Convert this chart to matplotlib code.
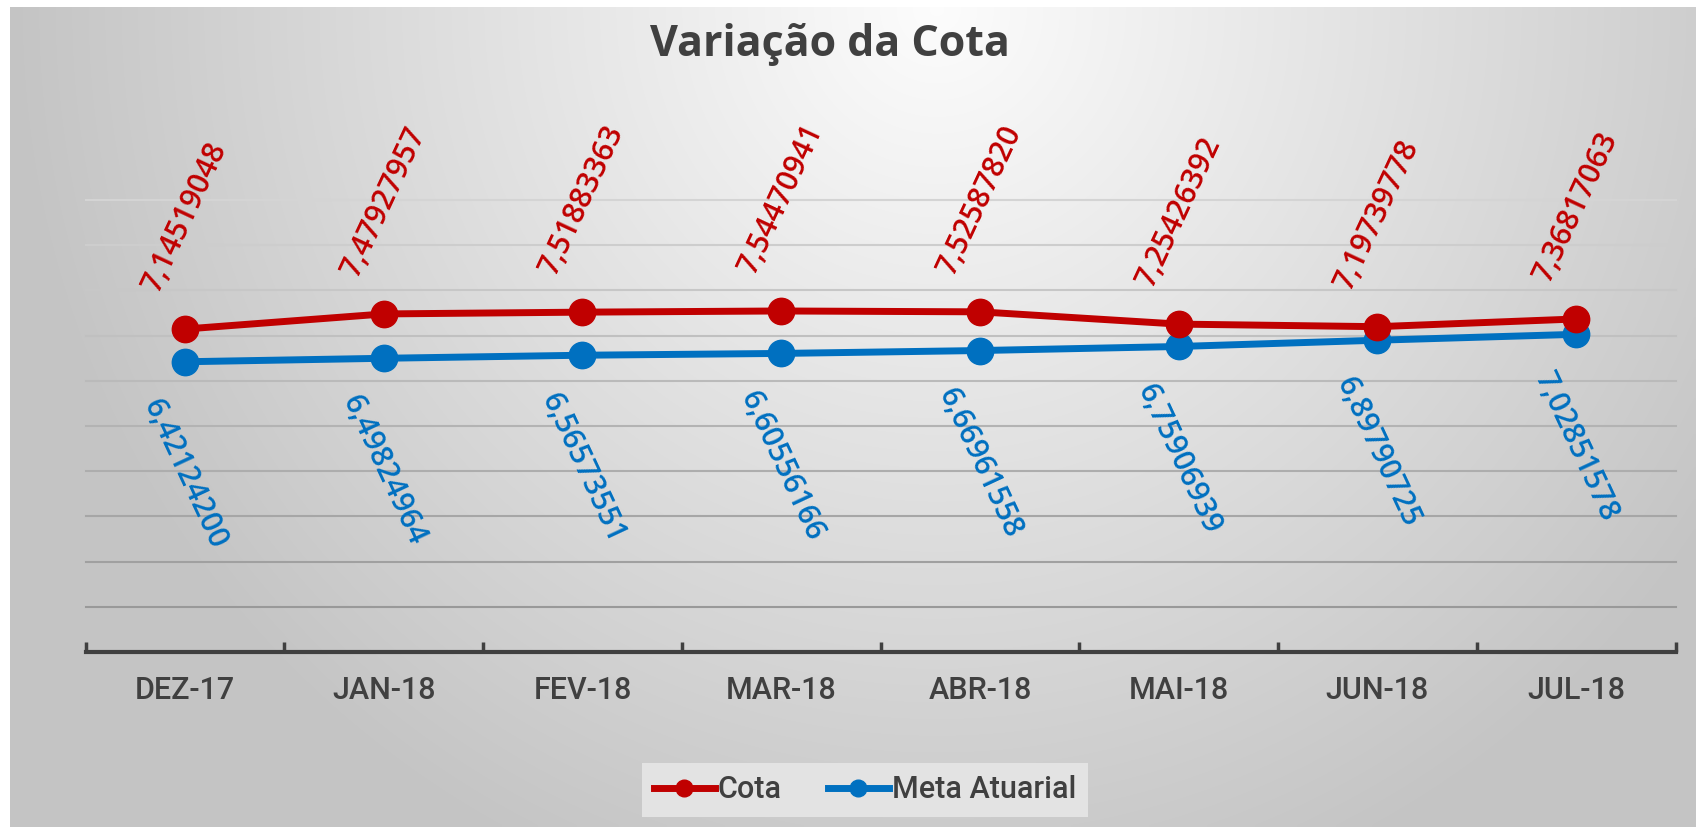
import numpy as np
import matplotlib.pyplot as plt
from matplotlib.lines import Line2D

# data
meses = ['DEZ-17', 'JAN-18', 'FEV-18', 'MAR-18', 'ABR-18', 'MAI-18', 'JUN-18', 'JUL-18']
cota = [7.14519048, 7.47927957, 7.51883363, 7.54470941, 7.52587820, 7.25426392, 7.19739778, 7.36817063]
meta = [6.42124200, 6.49824964, 6.56573551, 6.60556166, 6.66961558, 6.75906939, 6.89790725, 7.02851578]

red = '#C00000'
blue = '#0070C0'
dark = '#404040'

plt.rcParams['font.family'] = ['Roboto', 'DejaVu Sans']

W, H = 1696, 827
fig = plt.figure(figsize=(W / 100, H / 100), dpi=100, facecolor='white')

# gradient background (chart area starts a bit in from top/left)
x0, y0 = 10, 7
bg = fig.add_axes([x0 / W, 0, 1 - x0 / W, 1 - y0 / H], zorder=0)
gx = np.linspace(0, 1, 400)
gy = np.linspace(0, 1, 200)
U, V = np.meshgrid(gx, gy)
d = np.sqrt(((U - 0.55) / 0.55) ** 2 + (V / 1.15) ** 2)
d = np.clip(d, 0, 1)
light = 0.99 - d * (0.99 - 0.77)
img = np.dstack([light, light, light])
bg.imshow(img, aspect='auto', extent=[0, 1, 1, 0], interpolation='bilinear')
bg.set_xlim(0, 1)
bg.set_ylim(1, 0)
bg.axis('off')

# main axes
left, right = 85.6, 1675.6
bottom_px, top_px = 652, 200
ax = fig.add_axes([left / W, (H - bottom_px) / H, (right - left) / W, (bottom_px - top_px) / H], zorder=1)
ax.patch.set_alpha(0)

x = np.arange(len(meses))
ax.set_xlim(-0.5, len(meses) - 0.5)
ax.set_ylim(0, 10)

# gridlines, lighter at top, darker at bottom
for lvl in range(1, 11):
    t = (lvl - 1) / 9
    c = 0.60 + t * (0.83 - 0.60)
    ax.axhline(lvl, color=(c, c, c), lw=1.5, zorder=1, clip_on=False)

ax.plot(x, meta, color=blue, lw=5, marker='o', ms=19, zorder=3, clip_on=False)
ax.plot(x, cota, color=red, lw=5, marker='o', ms=19, zorder=4, clip_on=False)

lab_font = ['Open Sans', 'DejaVu Sans']
for xi, v in zip(x, cota):
    ax.annotate(f'{v:.8f}'.replace('.', ','), (xi, v), xytext=(0, 81), textcoords='offset points',
                ha='center', va='center', rotation=65, color=red, fontsize=21.5,
                fontweight='semibold', family=lab_font, annotation_clip=False)
for xi, v in zip(x, meta):
    ax.annotate(f'{v:.8f}'.replace('.', ','), (xi, v), xytext=(0, -81), textcoords='offset points',
                ha='center', va='center', rotation=-65, color=blue, fontsize=21.5,
                fontweight='semibold', family=lab_font, annotation_clip=False)

for s in ['top', 'right', 'left']:
    ax.spines[s].set_visible(False)
ax.spines['bottom'].set_color(dark)
ax.spines['bottom'].set_linewidth(3)
ax.set_yticks([])
ax.set_xticks(np.arange(-0.5, len(meses) + 0.5, 1), minor=False)
ax.set_xticklabels([])
ax.tick_params(axis='x', which='major', direction='in', length=7, width=2.5, color=dark)
ax.set_xticks(x, minor=True)
ax.set_xticklabels(meses, minor=True, fontsize=22, color=dark, fontweight='medium')
ax.tick_params(axis='x', which='minor', length=0, pad=17)

fig.text(830 / W, 1 - 44 / H, 'Variação da Cota', ha='center', va='center',
         fontsize=31, fontweight='bold', color=dark, family=['Open Sans', 'DejaVu Sans'])

handles = [Line2D([], [], color=red, lw=5, marker='o', ms=12),
           Line2D([], [], color=blue, lw=5, marker='o', ms=12)]
leg = fig.legend(handles, ['Cota', 'Meta Atuarial'], loc='center', bbox_to_anchor=(865 / W, 1 - 790 / H),
                 ncol=2, frameon=True, fontsize=22, handlelength=2.0, handletextpad=0.1,
                 columnspacing=1.5, borderpad=0.4)
leg.get_frame().set_facecolor('#e3e3e3')
leg.get_frame().set_edgecolor('none')
leg.get_frame().set_alpha(1)
leg.get_frame().set_boxstyle('square', pad=0)
for t in leg.get_texts():
    t.set_color(dark)
    t.set_fontweight('medium')

fig.savefig('out.png', dpi=100, facecolor='white')
